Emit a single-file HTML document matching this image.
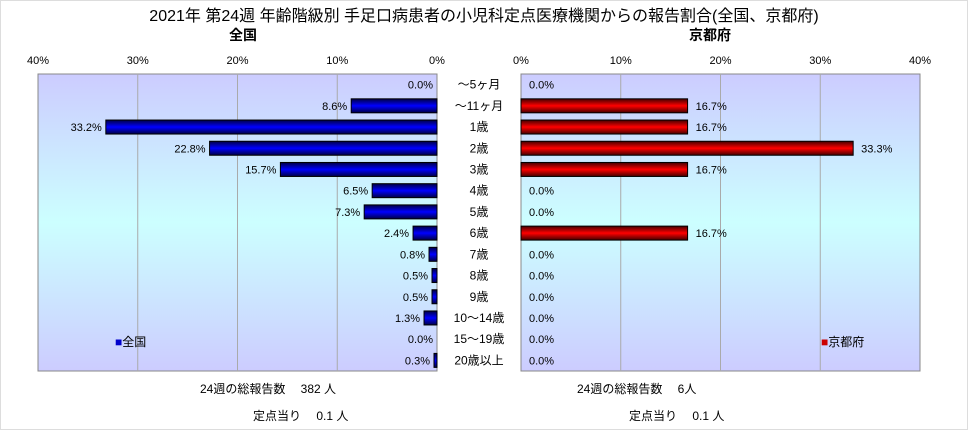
<!DOCTYPE html>
<html><head><meta charset="utf-8">
<style>
body{margin:0;background:#fff;}
svg text{font-family:"Liberation Sans","Noto Sans CJK JP",sans-serif;fill:#000;}
</style></head>
<body>
<svg id="chart" width="968" height="430" viewBox="0 0 968 430" xmlns="http://www.w3.org/2000/svg">
<defs>
<linearGradient id="bg" x1="0" y1="0" x2="0" y2="1">
<stop offset="0" stop-color="#ccccff"/><stop offset="0.5" stop-color="#ccffff"/><stop offset="1" stop-color="#ccccff"/>
</linearGradient>
<linearGradient id="blue" x1="0" y1="0" x2="0" y2="1">
<stop offset="0" stop-color="#000044"/><stop offset="0.5" stop-color="#0000ff"/><stop offset="1" stop-color="#000044"/>
</linearGradient>
<linearGradient id="red" x1="0" y1="0" x2="0" y2="1">
<stop offset="0" stop-color="#440000"/><stop offset="0.5" stop-color="#ff0000"/><stop offset="1" stop-color="#440000"/>
</linearGradient>
</defs>
<rect x="0.5" y="0.5" width="967" height="429" fill="#fff" stroke="#ddd"/>
<text x="484" y="21" font-size="16" text-anchor="middle">2021年 第24週 年齢階級別 手足口病患者の小児科定点医療機関からの報告割合(全国、京都府)</text>
<text x="243" y="40" font-size="14" font-weight="bold" text-anchor="middle">全国</text>
<text x="710" y="40" font-size="14" font-weight="bold" text-anchor="middle">京都府</text>
<rect x="38" y="74" width="399" height="297" fill="url(#bg)" stroke="#888"/>
<rect x="521" y="74" width="399" height="297" fill="url(#bg)" stroke="#888"/>
<g id="marks"></g>
<text x="115" y="346" font-size="12"><tspan fill="#0000cc">■</tspan>全国</text>
<text x="821" y="346" font-size="12"><tspan fill="#cc0000">■</tspan>京都府</text>
<text x="200" y="393" font-size="12">24週の総報告数　 382 人</text>
<text x="253" y="420" font-size="12">定点当り　 0.1 人</text>
<text x="577" y="393" font-size="12">24週の総報告数　 6人</text>
<text x="629" y="420" font-size="12">定点当り　 0.1 人</text>
</svg>
<script>
const categories=["～5ヶ月","～11ヶ月","1歳","2歳","3歳","4歳","5歳","6歳","7歳","8歳","9歳","10～14歳","15～19歳","20歳以上"];
const nationalValues=[0.0,8.6,33.2,22.8,15.7,6.5,7.3,2.4,0.8,0.5,0.5,1.3,0.0,0.3];
const kyotoValues=[0.0,16.7,16.7,33.3,16.7,0.0,0.0,16.7,0.0,0.0,0.0,0.0,0.0,0.0];
const tickValues=[0,10,20,30,40];
const NS="http://www.w3.org/2000/svg";
const g=document.getElementById('marks');
const top0=74,plotH=297,rowH=plotH/categories.length,barH=14;
const xL=v=>437-v*399/40;
const xR=v=>521+v*399/40;
const yC=i=>top0+rowH*(i+0.5);
function mk(tag,attrs,txt){const e=document.createElementNS(NS,tag);for(const k in attrs)e.setAttribute(k,attrs[k]);if(txt!==undefined)e.textContent=txt;g.appendChild(e);return e;}
tickValues.forEach(t=>{
  if(t>0&&t<40){
    let l1=mk('line',{x1:xL(t),x2:xL(t),y1:74,y2:371,stroke:'#aaa','stroke-width':1});
    
    
    let l2=mk('line',{x1:xR(t),x2:xR(t),y1:74,y2:371,stroke:'#aaa','stroke-width':1});
    
    
  }
  let a=mk('text',{x:xL(t),y:64,'font-size':11,'text-anchor':'middle'},t+'%');
  
  
  let b=mk('text',{x:xR(t),y:64,'font-size':11,'text-anchor':'middle'},t+'%');
  
  
});
categories.forEach((c,i)=>{
  const y=yC(i);
  let lab=mk('text',{x:479,y:y+4,'font-size':12,'text-anchor':'middle'},c);
  
  
  const v=nationalValues[i];
  if(v>0){
    let r=mk('rect',{x:xL(v),y:y-barH/2,width:437-xL(v),height:barH,fill:'url(#blue)',stroke:'#000','stroke-width':1});
    
    
  }
  let t=mk('text',{x:xL(v)-4,y:y+4,'font-size':11,'text-anchor':'end'},v.toFixed(1)+'%');
  
  
  const k=kyotoValues[i];
  if(k>0){
    let r=mk('rect',{x:521,y:y-barH/2,width:xR(k)-521,height:barH,fill:'url(#red)',stroke:'#000','stroke-width':1});
    
    
  }
  let t2=mk('text',{x:xR(k)+8,y:y+4,'font-size':11},k.toFixed(1)+'%');
  
  
});
</script>
</body></html>
